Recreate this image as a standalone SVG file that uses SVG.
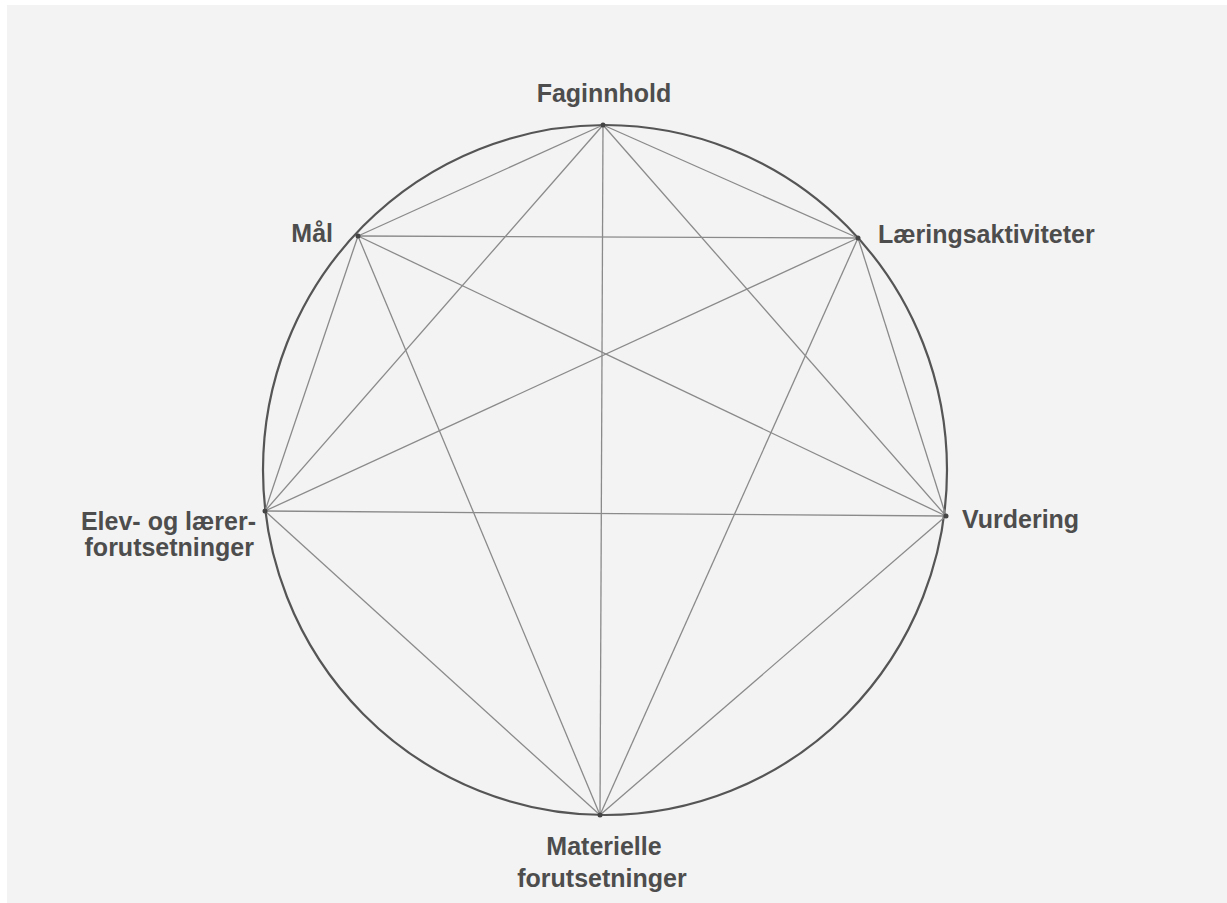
<svg xmlns="http://www.w3.org/2000/svg" width="1227" height="903" viewBox="0 0 1227 903">
<style>
.lbl{font-family:"Liberation Sans",Arial,sans-serif;font-weight:bold;font-size:25px;fill:#4d4d4d}
.ln{stroke:#8a8a8a;stroke-width:1.3;fill:none}
.dot{fill:#444}
</style>
<rect x="0" y="0" width="1227" height="903" fill="#ffffff"/>
<rect x="7" y="5" width="1220" height="898" fill="#f3f3f3"/>
<ellipse cx="605" cy="470" rx="342" ry="345" fill="none" stroke="#555" stroke-width="2.2"/>
<g id="connectors">
<line class="ln" x1="603" y1="125" x2="358" y2="236"/>
<line class="ln" x1="603" y1="125" x2="858" y2="238"/>
<line class="ln" x1="603" y1="125" x2="265" y2="511"/>
<line class="ln" x1="603" y1="125" x2="946" y2="516"/>
<line class="ln" x1="603" y1="125" x2="600" y2="815"/>
<line class="ln" x1="358" y1="236" x2="858" y2="238"/>
<line class="ln" x1="358" y1="236" x2="265" y2="511"/>
<line class="ln" x1="358" y1="236" x2="946" y2="516"/>
<line class="ln" x1="358" y1="236" x2="600" y2="815"/>
<line class="ln" x1="858" y1="238" x2="265" y2="511"/>
<line class="ln" x1="858" y1="238" x2="946" y2="516"/>
<line class="ln" x1="858" y1="238" x2="600" y2="815"/>
<line class="ln" x1="265" y1="511" x2="946" y2="516"/>
<line class="ln" x1="265" y1="511" x2="600" y2="815"/>
<line class="ln" x1="946" y1="516" x2="600" y2="815"/>
</g>
<g id="faginnhold"><circle class="dot" cx="603" cy="125" r="2.5"/><text class="lbl" x="604" y="102" text-anchor="middle">Faginnhold</text></g>
<g id="mal"><circle class="dot" cx="358" cy="236" r="2.5"/><text class="lbl" x="333" y="242" text-anchor="end">Mål</text></g>
<g id="laeringsaktiviteter"><circle class="dot" cx="858" cy="238" r="2.5"/><text class="lbl" x="878" y="243">Læringsaktiviteter</text></g>
<g id="elev"><circle class="dot" cx="265" cy="511" r="2.5"/><text class="lbl" x="256" y="530" text-anchor="end">Elev- og lærer-</text><text class="lbl" x="254" y="556" text-anchor="end">forutsetninger</text></g>
<g id="vurdering"><circle class="dot" cx="946" cy="516" r="2.5"/><text class="lbl" x="962" y="528">Vurdering</text></g>
<g id="materielle"><circle class="dot" cx="600" cy="815" r="2.5"/><text class="lbl" x="604" y="855" text-anchor="middle">Materielle</text><text class="lbl" x="602" y="887" text-anchor="middle">forutsetninger</text></g>
</svg>
